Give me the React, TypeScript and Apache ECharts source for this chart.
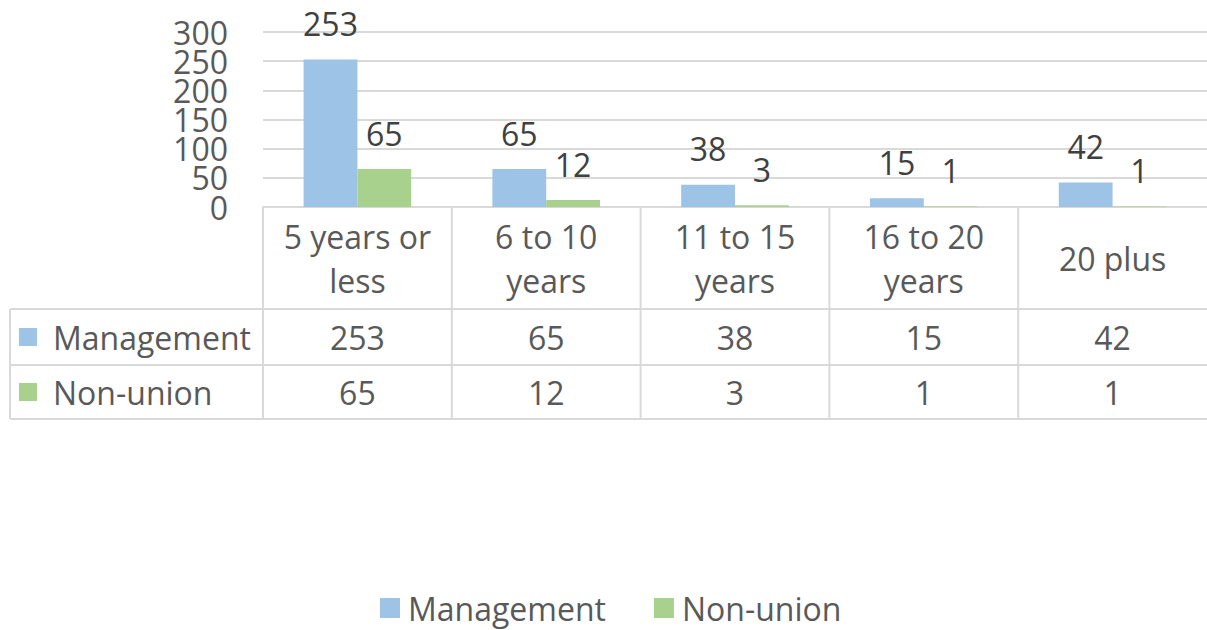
import React, { useEffect, useRef } from "react";
import * as echarts from "echarts";

const categories = ["5 years or\nless", "6 to 10\nyears", "11 to 15\nyears", "16 to 20\nyears", "20 plus"];
const management = [253, 65, 38, 15, 42];
const nonUnion = [65, 12, 3, 1, 1];
const seriesNames = ["Management", "Non-union"];
const colors = ["#9DC3E6", "#A9D18E"];
const yTicks = [0, 50, 100, 150, 200, 250, 300];

const FONT = "Open Sans";
const FS = 32;
const W = 1207;
const H = 630;
const GRID_LEFT = 263;
const GRID_TOP = 32;
const AXIS_Y = 207;
const ROW_HEADER_BOTTOM = 309;
const ROW1_BOTTOM = 365;
const ROW2_BOTTOM = 419;
const TABLE_LEFT = 10;
const LINE = "#D9D9D9";
const TXT = "#595959";

export default function App() {
  const ref = useRef<HTMLDivElement>(null);
  useEffect(() => {
    if (!ref.current) return;
    const chart = echarts.init(ref.current, undefined, { renderer: "svg" });
    const labelCfg = {
      show: true,
      position: "top" as const,
      distance: 20,
      fontSize: FS,
      fontFamily: FONT,
      color: "#404040",
    };
    chart.setOption({
      animation: false,
      textStyle: { fontFamily: FONT },
      grid: { left: GRID_LEFT, right: 0, top: GRID_TOP, bottom: H - AXIS_Y, containLabel: false },
      legend: {
        bottom: 6,
        left: 380,
        padding: 0,
        icon: "rect",
        itemWidth: 20,
        itemHeight: 20,
        itemGap: 48,
        textStyle: { fontSize: FS, color: TXT, fontFamily: FONT, padding: [0, 0, 0, 3] },
        data: seriesNames,
      },
      xAxis: {
        type: "category",
        data: categories,
        axisLine: { show: true, lineStyle: { color: LINE, width: 2 } },
        axisTick: { show: false },
        axisLabel: { show: false },
        splitLine: { show: false },
      },
      yAxis: {
        type: "value",
        min: yTicks[0],
        max: yTicks[yTicks.length - 1],
        interval: yTicks[1] - yTicks[0],
        axisLine: { show: false },
        axisTick: { show: false },
        axisLabel: { show: false },
        splitLine: { lineStyle: { color: LINE, width: 2 } },
      },
      series: [
        {
          name: seriesNames[0],
          type: "bar",
          data: management,
          itemStyle: { color: colors[0] },
          barGap: "0%",
          barCategoryGap: "43%",
          label: labelCfg,
        },
        {
          name: seriesNames[1],
          type: "bar",
          data: nonUnion,
          itemStyle: { color: colors[1] },
          label: labelCfg,
        },
      ],
    });

    const elements: any[] = [];
    // Y axis tick labels (placed through the axis scale)
    yTicks.forEach((t) => {
      const y = chart.convertToPixel({ yAxisIndex: 0 }, t) as number;
      elements.push({
        type: "text",
        x: GRID_LEFT - 35,
        y,
        style: { text: String(t), fontSize: FS, fontFamily: FONT, fill: TXT, align: "right", verticalAlign: "middle" },
      });
    });

    // Data table below the chart
    const c0 = chart.convertToPixel({ xAxisIndex: 0 }, 0) as number;
    const c1 = chart.convertToPixel({ xAxisIndex: 0 }, 1) as number;
    const band = c1 - c0;
    const left0 = c0 - band / 2;
    const lineStyle = { stroke: LINE, lineWidth: 2 };
    elements.push({ type: "line", shape: { x1: TABLE_LEFT, y1: ROW_HEADER_BOTTOM, x2: W, y2: ROW_HEADER_BOTTOM }, style: lineStyle });
    elements.push({ type: "line", shape: { x1: TABLE_LEFT, y1: ROW1_BOTTOM, x2: W, y2: ROW1_BOTTOM }, style: lineStyle });
    elements.push({ type: "line", shape: { x1: TABLE_LEFT, y1: ROW2_BOTTOM, x2: W, y2: ROW2_BOTTOM }, style: lineStyle });
    elements.push({ type: "line", shape: { x1: TABLE_LEFT, y1: ROW_HEADER_BOTTOM, x2: TABLE_LEFT, y2: ROW2_BOTTOM }, style: lineStyle });
    for (let i = 0; i < categories.length; i++) {
      const x = left0 + i * band;
      elements.push({ type: "line", shape: { x1: x, y1: AXIS_Y, x2: x, y2: ROW2_BOTTOM }, style: lineStyle });
    }
    categories.forEach((cat, i) => {
      const cx = c0 + i * band;
      elements.push({
        type: "text",
        x: cx,
        y: (AXIS_Y + ROW_HEADER_BOTTOM) / 2,
        style: { text: cat, fontSize: FS, fontFamily: FONT, fill: TXT, align: "center", verticalAlign: "middle", lineHeight: 44 },
      });
    });
    const rows = [management, nonUnion];
    const rowY = [(ROW_HEADER_BOTTOM + ROW1_BOTTOM) / 2, (ROW1_BOTTOM + ROW2_BOTTOM) / 2];
    rows.forEach((vals, r) => {
      elements.push({ type: "rect", shape: { x: 19, y: rowY[r] - 9, width: 18, height: 18 }, style: { fill: colors[r] } });
      elements.push({
        type: "text",
        x: 53,
        y: rowY[r],
        style: { text: seriesNames[r], fontSize: FS, fontFamily: FONT, fill: TXT, align: "left", verticalAlign: "middle" },
      });
      vals.forEach((v, i) => {
        elements.push({
          type: "text",
          x: c0 + i * band,
          y: rowY[r],
          style: { text: String(v), fontSize: FS, fontFamily: FONT, fill: TXT, align: "center", verticalAlign: "middle" },
        });
      });
    });
    chart.setOption({ graphic: elements });

    return () => chart.dispose();
  }, []);
  return <div ref={ref} style={{ position: "absolute", left: 0, top: 0, width: W, height: H }} />;
}
